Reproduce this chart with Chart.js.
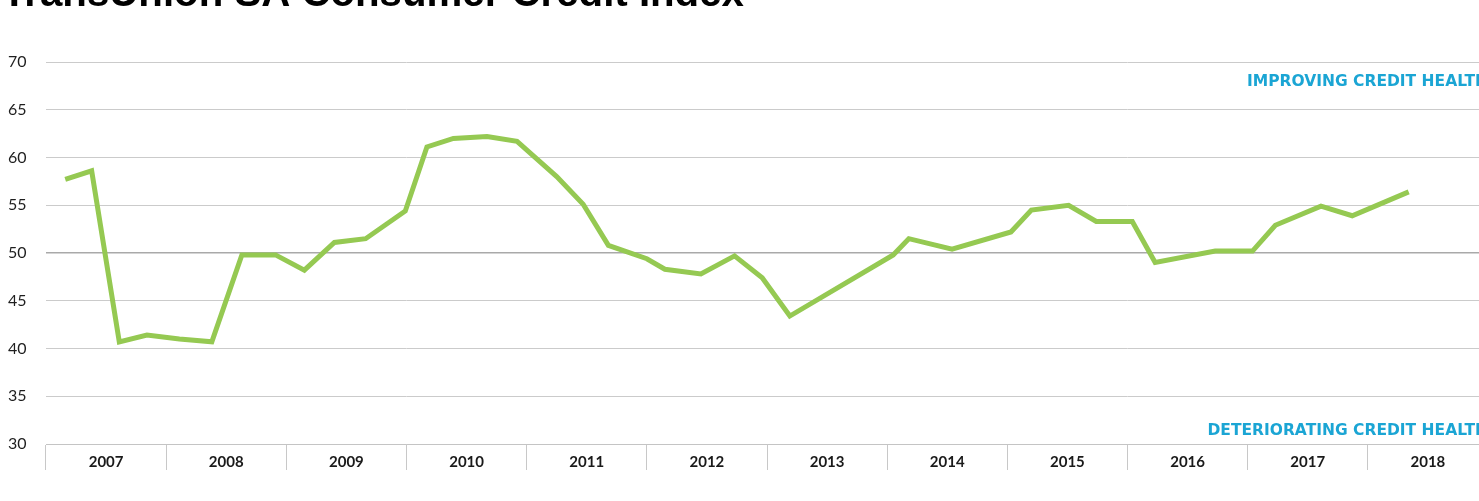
<!DOCTYPE html>
<html>
<head>
<meta charset="utf-8">
<style>
  html, body { margin: 0; padding: 0; background: #ffffff; overflow: hidden; }
  #wrap { width: 1500px; height: 501px; }
</style>
<script src="https://cdn.jsdelivr.net/npm/chart.js@4"></script>
</head>
<body>
<div id="wrap"><canvas id="cci" width="1500" height="501"></canvas></div>
<script>
// TransUnion SA Consumer Credit Index, 2007 - 2018
const years = ['2007', '2008', '2009', '2010', '2011', '2012', '2013', '2014', '2015', '2016', '2017', '2018'];
// release dates as decimal years
const periods = [
  2007.16, 2007.38, 2007.61, 2007.84,
  2008.11, 2008.38, 2008.63, 2008.91,
  2009.15, 2009.40, 2009.66, 2009.99,
  2010.17, 2010.39, 2010.67, 2010.92,
  2011.25, 2011.47, 2011.68, 2012.00,
  2012.15, 2012.45, 2012.73, 2012.96,
  2013.19, 2014.05,
  2014.18, 2014.54, 2015.03,
  2015.20, 2015.51, 2015.74, 2016.04,
  2016.23, 2016.73, 2017.04,
  2017.23, 2017.61, 2017.87, 2018.34
];
const indexValues = [
  57.7, 58.6, 40.7, 41.4,
  41.0, 40.7, 49.8, 49.8,
  48.2, 51.1, 51.5, 54.4,
  61.1, 62.0, 62.2, 61.7,
  58.0, 55.1, 50.8, 49.4,
  48.3, 47.8, 49.7, 47.4,
  43.4, 49.8,
  51.5, 50.4, 52.2,
  54.5, 55.0, 53.3, 53.3,
  49.0, 50.2, 50.2,
  52.9, 54.9, 53.9, 56.4
];
const yTicks = { min: 30, max: 70, step: 5 };

const titleText = 'TransUnion SA Consumer Credit Index';
const upperNote = { text: 'IMPROVING CREDIT HEALTH', value: 67.95 };
const lowerNote = { text: 'DETERIORATING CREDIT HEALTH', value: 31.4 };

const points = periods.map((p, i) => ({ x: p, y: indexValues[i] }));

// clipped heading above the plot
const headingPlugin = {
  id: 'heading',
  afterDraw(chart) {
    const ctx = chart.ctx;
    ctx.save();
    ctx.font = 'bold 100px "Liberation Sans", Arial, sans-serif';
    const w = ctx.measureText(titleText).width;
    const size = 100 * 742 / w;
    ctx.font = 'bold ' + size.toFixed(2) + 'px "Liberation Sans", Arial, sans-serif';
    ctx.fillStyle = '#000000';
    ctx.textAlign = 'left';
    ctx.textBaseline = 'alphabetic';
    ctx.fillText(titleText, 2, 6);
    ctx.restore();
  }
};

// direction notes at the top and bottom of the value range
const notesPlugin = {
  id: 'notes',
  afterDatasetsDraw(chart) {
    const ctx = chart.ctx;
    const y = chart.scales.y;
    const right = chart.chartArea.right;
    ctx.save();
    ctx.font = 'bold 15.5px "DejaVu Sans", sans-serif';
    ctx.fillStyle = '#1ba5d4';
    ctx.textAlign = 'right';
    ctx.textBaseline = 'middle';
    ctx.fillText(upperNote.text, right, y.getPixelForValue(upperNote.value));
    ctx.fillText(lowerNote.text, right, y.getPixelForValue(lowerNote.value));
    ctx.restore();
  }
};

new Chart(document.getElementById('cci'), {
  type: 'line',
  data: {
    datasets: [{
      data: points,
      xAxisID: 'xt',
      yAxisID: 'y',
      borderColor: '#95c952',
      borderWidth: 5,
      borderCapStyle: 'butt',
      borderJoinStyle: 'miter',
      tension: 0,
      pointRadius: 0,
      fill: false
    }]
  },
  options: {
    responsive: false,
    animation: false,
    devicePixelRatio: 1,
    layout: { padding: { left: 8, right: 12, top: 62, bottom: 27 } },
    plugins: {
      legend: { display: false },
      tooltip: { enabled: false },
      title: { display: false }
    },
    scales: {
      xt: {
        type: 'linear',
        display: false,
        min: 2007,
        max: 2019
      },
      x: {
        type: 'category',
        labels: years,
        position: 'bottom',
        offset: true,
        afterFit(scale) { scale.height = 30; },
        border: { display: true, color: '#c4c4c4', width: 1 },
        grid: {
          offset: true,
          drawOnChartArea: false,
          drawTicks: true,
          tickLength: 26,
          color: '#c8c8c8',
          lineWidth: 1
        },
        ticks: {
          padding: -17,
          maxRotation: 0,
          autoSkip: false,
          color: '#1a1a1a',
          font: { family: 'Lato, "Open Sans", sans-serif', size: 15, weight: 'bold' }
        }
      },
      y: {
        type: 'linear',
        position: 'left',
        min: yTicks.min,
        max: yTicks.max,
        afterFit(scale) { scale.width = 38; },
        border: { display: false },
        grid: {
          drawTicks: false,
          color: (c) => (c.tick && c.tick.value === 50) ? '#a9a9a9' : '#cbcbcb',
          lineWidth: (c) => (c.tick && c.tick.value === 50) ? 1.6 : 1
        },
        ticks: {
          stepSize: yTicks.step,
          crossAlign: 'far',
          padding: 0,
          color: '#1f1f1f',
          font: { family: 'Lato, "Open Sans", sans-serif', size: 16 }
        }
      }
    }
  },
  plugins: [headingPlugin, notesPlugin]
});
</script>
</body>
</html>
